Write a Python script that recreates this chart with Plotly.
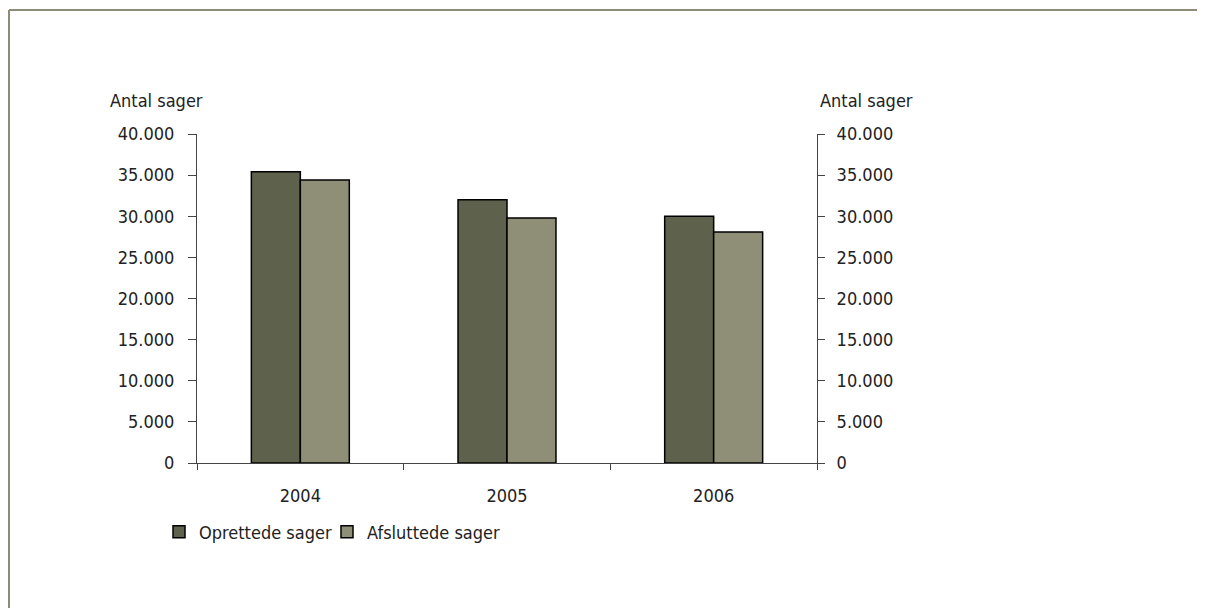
import plotly.graph_objects as go

years = ["2004", "2005", "2006"]
oprettede = [35400, 32000, 30000]
afsluttede = [34400, 29800, 28100]
tick_vals = [0, 5000, 10000, 15000, 20000, 25000, 30000, 35000, 40000]
tick_text = ["0", "5.000", "10.000", "15.000", "20.000", "25.000", "30.000", "35.000", "40.000"]

FONT = "DejaVu Sans Condensed"
FS = 18
DARK = "#5e614b"
LIGHT = "#8f8f78"
AXC = "#444444"
TXT = "#222222"
OFF = 8  # body margin of the html page

fig = go.Figure()
fig.add_trace(go.Bar(x=years, y=oprettede, name="Oprettede sager", legend="legend",
                     marker=dict(color=DARK, line=dict(color="black", width=1.5))))
fig.add_trace(go.Bar(x=years, y=afsluttede, name="Afsluttede sager", legend="legend2",
                     marker=dict(color=LIGHT, line=dict(color="black", width=1.5))))
fig.add_trace(go.Scatter(x=years, y=oprettede, yaxis="y2", mode="markers",
                         marker=dict(opacity=0), showlegend=False, hoverinfo="skip"))

# target screen coordinates
L, R, T, B = 197, 817, 134, 463
W, H = 1205, 608
pw, ph = R - L, B - T

def px(x):
    return (x - L) / pw

def py(y):
    return (B - y) / ph

legend_common = dict(orientation="h", xanchor="left", yanchor="middle",
                     font=dict(family=FONT, size=FS, color=TXT),
                     bgcolor="rgba(0,0,0,0)", itemwidth=30)

fig.update_layout(
    width=W - OFF, height=H - OFF,
    margin=dict(l=L - OFF, r=W - R, t=T - OFF, b=H - B, pad=0),
    paper_bgcolor="white", plot_bgcolor="white",
    font=dict(family=FONT, size=FS, color=TXT),
    barmode="group", bargap=0.526, bargroupgap=0,
    xaxis=dict(type="category", showline=True, linecolor=AXC, linewidth=1,
               ticks="outside", tickson="boundaries", ticklen=6, tickcolor=AXC,
               showgrid=False, tickfont=dict(family=FONT, size=FS, color=TXT),
               ticklabelstandoff=16),
    yaxis=dict(range=[0, 40000], tickvals=tick_vals, ticktext=tick_text,
               showline=True, linecolor=AXC, linewidth=1, ticks="outside",
               ticklen=8, tickcolor=AXC, showgrid=False, zeroline=False,
               ticklabelstandoff=10,
               tickfont=dict(family=FONT, size=FS, color=TXT)),
    yaxis2=dict(range=[0, 40000], tickvals=tick_vals, ticktext=tick_text,
                overlaying="y", side="right", showline=True, linecolor=AXC,
                linewidth=1, ticks="outside", ticklen=7, tickcolor=AXC,
                showgrid=False, zeroline=False, ticklabelstandoff=8,
                tickfont=dict(family=FONT, size=FS, color=TXT)),
    legend=dict(x=px(159), y=py(532), **legend_common),
    legend2=dict(x=px(327), y=py(532), **legend_common),
    showlegend=True,
    annotations=[
        dict(text="Antal sager", xref="paper", yref="paper", x=px(205), y=py(100),
             xanchor="right", yanchor="middle", showarrow=False,
             font=dict(family=FONT, size=FS, color=TXT)),
        dict(text="Antal sager", xref="paper", yref="paper", x=px(818), y=py(100),
             xanchor="left", yanchor="middle", showarrow=False,
             font=dict(family=FONT, size=FS, color=TXT)),
    ],
    shapes=[
        dict(type="line", xref="paper", yref="paper", x0=px(9), x1=px(9),
             y0=py(10), y1=py(620), line=dict(color="#8c8c78", width=2)),
        dict(type="line", xref="paper", yref="paper", x0=px(9), x1=px(1220),
             y0=py(10), y1=py(10), line=dict(color="#8c8c78", width=2)),
    ],
)

fig.write_html("out.html")
